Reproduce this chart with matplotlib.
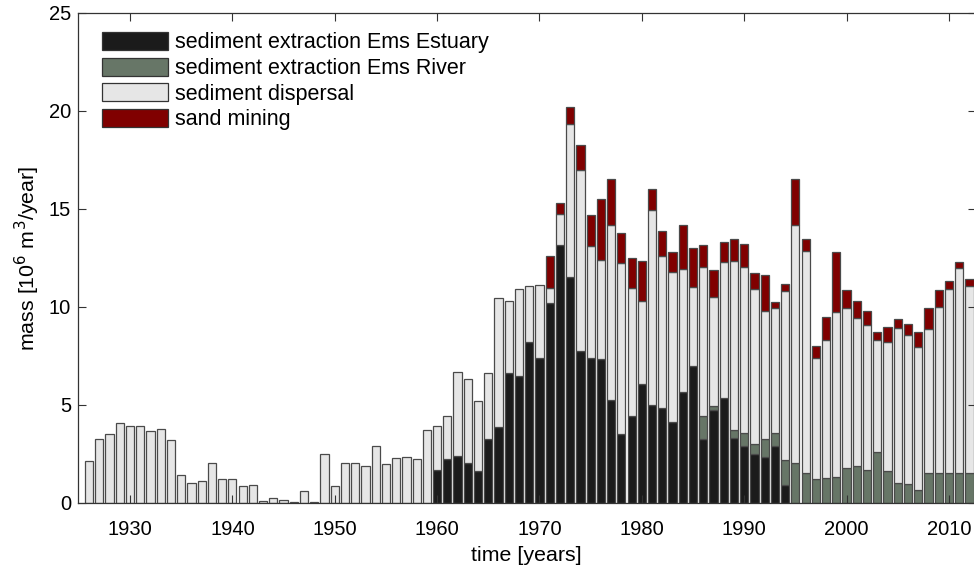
import numpy as np
import matplotlib
matplotlib.use('Agg')
import matplotlib.pyplot as plt

#%% data (10^6 m3/year)
years = np.arange(1926, 2013)

# 1926-1959: only dispersal
dispersal_early = [2.16, 3.26, 3.50, 4.06, 3.94, 3.94, 3.65, 3.75, 3.23, 1.41,
                   1.02, 1.12, 2.02, 1.21, 1.21, 0.87, 0.92, 0.08, 0.27, 0.15,
                   0.05, 0.63, 0.05, 2.48, 0.85, 2.04, 2.04, 1.90, 2.92, 1.97,
                   2.28, 2.36, 2.24, 3.72]

# 1960-2012
estuary_late = [1.70, 2.26, 2.38, 2.05, 1.65, 3.28, 3.90, 6.62, 6.47, 8.23,
                7.42, 10.22, 13.16, 11.53, 7.76, 7.42, 7.35, 5.26, 3.50, 4.43,
                6.06, 4.99, 4.87, 4.13, 5.65, 7.01, 3.28, 4.75, 5.38, 3.33,
                2.89, 2.50, 2.36, 2.89, 0.93, 0, 0, 0, 0, 0,
                0, 0, 0, 0, 0, 0, 0, 0, 0, 0,
                0, 0, 0]
river_late = [0, 0, 0, 0, 0, 0, 0, 0, 0, 0,
              0, 0, 0, 0, 0, 0, 0, 0, 0, 0,
              0, 0, 0, 0, 0, 0, 1.15, 0.21, 0, 0.37,
              0.68, 0.49, 0.92, 0.66, 1.24, 2.04, 1.53, 1.24, 1.26, 1.31,
              1.80, 1.88, 1.68, 2.60, 1.65, 1.00, 0.95, 0.65, 1.51, 1.51,
              1.51, 1.51, 1.51]
dispersal_late = [2.22, 2.17, 4.29, 4.28, 3.56, 3.36, 6.58, 3.69, 4.45, 2.84,
                  3.68, 0.75, 1.58, 7.82, 9.24, 5.70, 5.04, 8.92, 8.72, 6.54,
                  4.25, 9.95, 7.71, 7.64, 6.27, 4.03, 7.59, 5.53, 6.91, 8.63,
                  8.48, 7.91, 6.50, 6.40, 8.64, 12.15, 11.34, 6.18, 7.06, 8.45,
                  8.13, 7.54, 7.40, 5.70, 6.55, 7.95, 7.62, 7.30, 7.39, 8.47,
                  9.42, 10.46, 9.58]
sand_late = [0, 0, 0, 0, 0, 0, 0, 0, 0, 0,
             0, 1.63, 0.57, 0.84, 1.25, 1.57, 3.14, 2.37, 1.57, 1.51,
             2.05, 1.09, 1.31, 1.01, 2.24, 1.95, 1.14, 1.39, 1.04, 1.12,
             1.14, 0.81, 1.85, 0.32, 0.38, 2.36, 0.61, 0.58, 1.17, 3.02,
             0.94, 0.87, 0.73, 0.44, 0.76, 0.46, 0.55, 0.76, 1.03, 0.87,
             0.39, 0.34, 0.35]

n_early = len(dispersal_early)
estuary = np.array([0] * n_early + estuary_late, dtype=float)
river = np.array([0] * n_early + river_late, dtype=float)
dispersal = np.array(dispersal_early + dispersal_late, dtype=float)
sand = np.array([0] * n_early + sand_late, dtype=float)

labels = ['sediment extraction Ems Estuary', 'sediment extraction Ems River',
          'sediment dispersal', 'sand mining']
colors = ['#1b1b1b', '#677667', '#e6e6e6', '#800000']

#%% plot
plt.rcParams['font.family'] = ['Liberation Sans', 'DejaVu Sans']
fig = plt.figure(figsize=[9.74, 5.67], dpi=100)
ax = fig.add_axes([0.0801, 0.1129, 0.9215, 0.8642])

bottom = np.zeros(len(years))
handles = []
for vals, col, lab in zip([estuary, river, dispersal, sand], colors, labels):
    h = np.where(vals > 0, vals, np.nan)
    b = ax.bar(years, h, width=0.8, bottom=bottom, color=col,
               edgecolor='#4a4a4a', linewidth=0.9, label=lab)
    handles.append(b)
    bottom = bottom + vals

ax.set_xlim(1924.92, 2012.6)
ax.set_ylim(0, 25)
ax.set_xticks(np.arange(1930, 2011, 10))
ax.set_yticks(np.arange(0, 26, 5))
ax.tick_params(direction='in', length=6, width=0.8, top=True, right=True,
               labelsize=14.5, color='#333333')
ax.tick_params(axis='x', pad=12.5)
ax.tick_params(axis='y', pad=5)
for sp in ax.spines.values():
    sp.set_color('#333333')
    sp.set_linewidth(0.9)
ax.set_xlabel('time [years]', fontsize=15.4, labelpad=5)
ax.set_ylabel('mass [10$^6$ m$^3$/year]', fontsize=15.4, labelpad=5)

leg = ax.legend(handles=handles, loc='upper left', bbox_to_anchor=(0.0268, 0.961),
                frameon=False, fontsize=15.5, handlelength=3.07, handleheight=0.9,
                labelspacing=0.2, handletextpad=0.3, borderpad=0, borderaxespad=0)
for p in leg.get_patches():
    p.set_edgecolor('#333333')

fig.savefig('out.png', dpi=100)
